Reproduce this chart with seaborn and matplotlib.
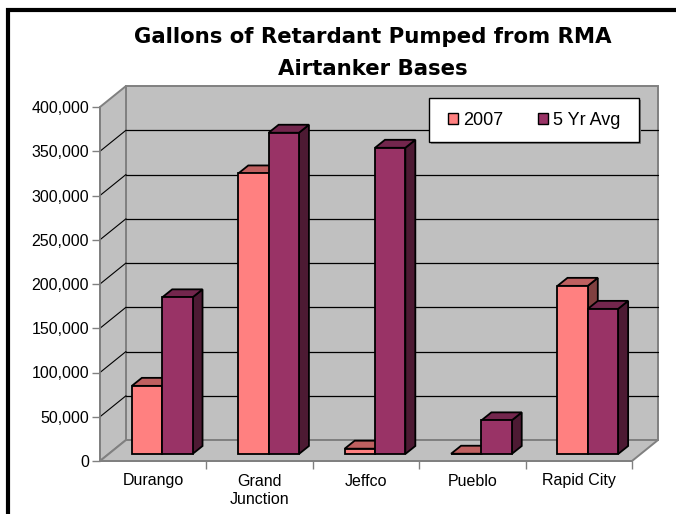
import matplotlib
matplotlib.use("Agg")
import matplotlib.pyplot as plt
import matplotlib.transforms as mtransforms
from matplotlib.patches import Polygon, Rectangle, Patch
from matplotlib.lines import Line2D
import seaborn as sns
import pandas as pd

# Data
bases = ["Durango", "Grand\nJunction", "Jeffco", "Pueblo", "Rapid City"]
series = ["2007", "5 Yr Avg"]
gallons_2007 = [77000, 317000, 6000, 300, 190000]
gallons_5yr = [177000, 363000, 346000, 38000, 164000]
y_ticks = list(range(0, 400001, 50000))

# Excel-ish 3D shading: front, top, side
front_colors = ["#FF8080", "#993366"]
top_colors = ["#BF6060", "#73264D"]
side_colors = ["#804040", "#4D1A33"]

df = pd.DataFrame({
    "Base": bases * 2,
    "Series": [series[0]] * len(bases) + [series[1]] * len(bases),
    "Gallons": gallons_2007 + gallons_5yr,
})

sns.set_theme(style="white")
plt.rcParams["font.family"] = ["Liberation Sans", "DejaVu Sans"]
plt.rcParams["text.color"] = "black"

W, H = 676, 514
fig = plt.figure(figsize=(W / 100, H / 100), dpi=100)
ax = fig.add_axes([100 / W, 53 / H, 532 / W, 354 / H])
ax.patch.set_alpha(0)

# pixel -> data helpers (front plane)
px_x = 532 / 5
px_y = 354 / 400000
def dx(p):
    return p / px_x
def dy(p):
    return p / px_y

DX, DY = dx(26), dy(21)       # depth of the chart box
WALL = "#C0C0C0"
EDGE = "#808080"

sns.barplot(data=df, x="Base", y="Gallons", hue="Series", palette=front_colors,
            width=0.57, saturation=1, edgecolor="black", linewidth=1.3,
            legend=False, ax=ax)
bars = list(ax.patches)
ax.set_xlim(-0.5, 4.5)
ax.set_ylim(0, 400000)

# walls and floor
x0, x1 = -0.5, 4.5
ax.add_patch(Rectangle((x0 + DX, DY), x1 - x0, 400000, facecolor=WALL,
                       edgecolor=EDGE, lw=1.4, clip_on=False, zorder=0.5))
ax.add_patch(Polygon([(x0, 0), (x0 + DX, DY), (x0 + DX, 400000 + DY), (x0, 400000)],
                     facecolor=WALL, edgecolor=EDGE, lw=1.4, clip_on=False, zorder=0.6))
ax.add_patch(Polygon([(x0, 0), (x1, 0), (x1 + DX, DY), (x0 + DX, DY)],
                     facecolor=WALL, edgecolor=EDGE, lw=1.4, clip_on=False, zorder=0.6))
for v in y_ticks[1:-1]:
    ax.add_line(Line2D([x0 + DX, x1 + DX], [v + DY, v + DY], color="black", lw=0.9,
                       clip_on=False, zorder=0.8))
    ax.add_line(Line2D([x0, x0 + DX], [v, v + DY], color="black", lw=0.8,
                       clip_on=False, zorder=0.8))

# 3D faces on the seaborn bars
shift = mtransforms.offset_copy(ax.transData, fig=fig, x=9, y=7, units="dots")
bx, by = dx(10), dy(8)
for i, bar in enumerate(bars):
    k = i // len(bases)
    x, w, h = bar.get_x(), bar.get_width(), bar.get_height()
    bar.set_transform(shift)
    bar.set_clip_on(False)
    bar.set_zorder(3 + 2 * k)
    top = Polygon([(x, h), (x + w, h), (x + w + bx, h + by), (x + bx, h + by)],
                  facecolor=top_colors[k], edgecolor="black", lw=1.3,
                  transform=shift, clip_on=False, zorder=2.5 + 2 * k)
    side = Polygon([(x + w, 0), (x + w + bx, by), (x + w + bx, h + by), (x + w, h)],
                   facecolor=side_colors[k], edgecolor="black", lw=1.3,
                   transform=shift, clip_on=False, zorder=2.5 + 2 * k)
    ax.add_patch(side)
    ax.add_patch(top)

# axes
for s in ["top", "right"]:
    ax.spines[s].set_visible(False)
for s in ["left", "bottom"]:
    ax.spines[s].set_color(EDGE)
    ax.spines[s].set_linewidth(1.2)
    ax.spines[s].set_zorder(1)
ax.set_yticks(y_ticks, labels=[f"{v:,}" for v in y_ticks])
ax.set_xticks(range(len(bases)), labels=bases)
ax.set_xticks([0.5, 1.5, 2.5, 3.5, 4.5], minor=True)
ax.tick_params(axis="y", left=True, direction="out", length=6, width=1,
               color=EDGE, labelsize=11.5, pad=2, labelcolor="black")
ax.tick_params(axis="x", which="major", bottom=False, length=0, labelsize=11.5,
               pad=9, labelcolor="black")
ax.tick_params(axis="x", which="minor", bottom=True, direction="out", length=6,
               width=1, color=EDGE)
for lbl in ax.get_xticklabels():
    lbl.set_linespacing(1.3)
ax.set_xlabel("")
ax.set_ylabel("")

# legend box
lx, ly, lw_, lh = 429, 98, 210, 44
fig.add_artist(Rectangle(((lx + 2) / W, 1 - (ly + lh + 2) / H), lw_ / W, lh / H,
                         transform=fig.transFigure, facecolor="#808080",
                         edgecolor="none", zorder=8))
fig.add_artist(Rectangle((lx / W, 1 - (ly + lh) / H), lw_ / W, lh / H,
                         transform=fig.transFigure, facecolor="white",
                         edgecolor="black", lw=1, zorder=9))
handles = [Patch(facecolor=c, edgecolor="black", lw=1) for c in front_colors]
leg = fig.legend(handles, series, loc="center left",
                 bbox_to_anchor=(448 / W, 1 - 120 / H), ncol=2, frameon=False,
                 fontsize=13, handlelength=0.55, handleheight=0.55,
                 handletextpad=0.3, columnspacing=1.9, borderpad=0,
                 borderaxespad=0)
leg.set_zorder(10)

# title
for ty, txt in [(37, "Gallons of Retardant Pumped from RMA"), (69, "Airtanker Bases")]:
    fig.text(373 / W, 1 - ty / H, txt, ha="center", va="center", fontsize=15.3,
             fontweight="bold", family="DejaVu Sans", color="black")

# outer border (left and top only are visible)
fig.add_artist(Line2D([7.5 / W, 7.5 / W, 1], [0, 1 - 9.5 / H, 1 - 9.5 / H],
                      transform=fig.transFigure, color="black", lw=3,
                      solid_joinstyle="miter"))

fig.savefig("out.png", dpi=100)
